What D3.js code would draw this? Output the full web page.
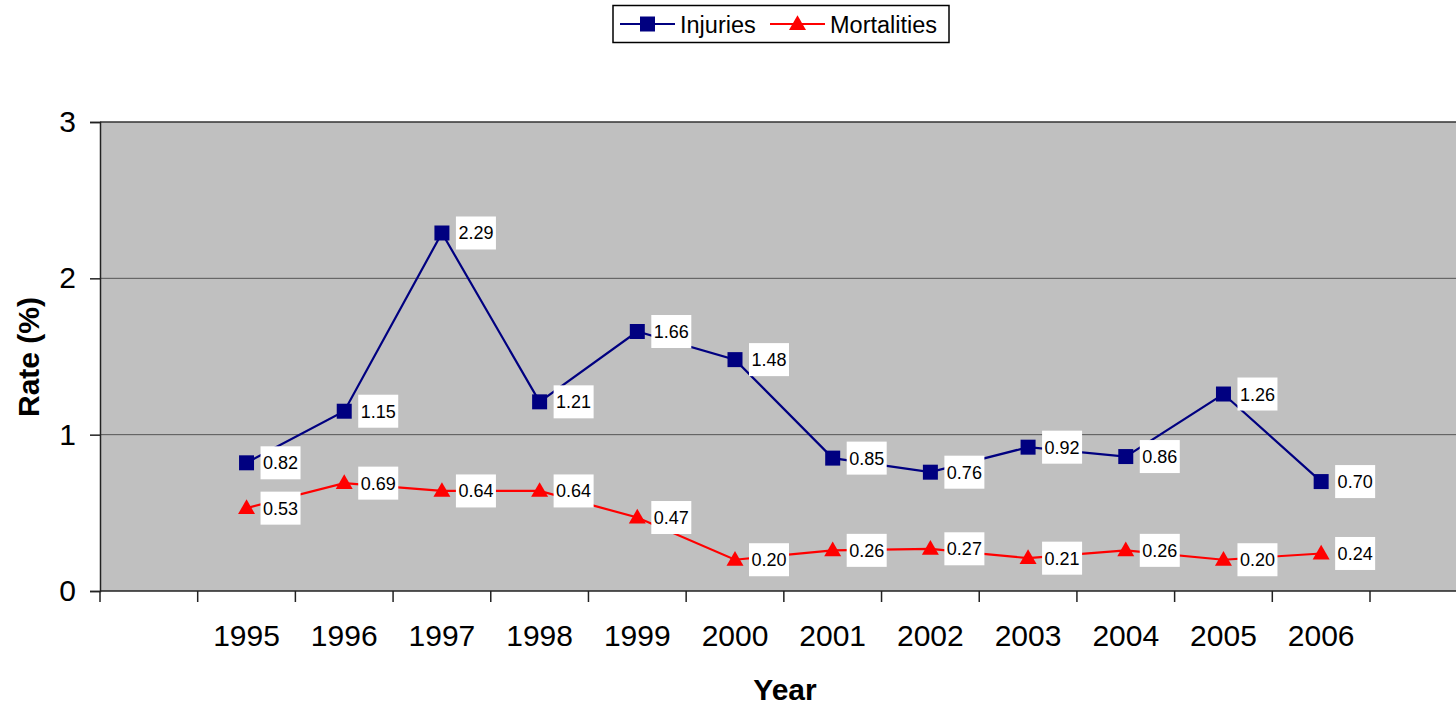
<!DOCTYPE html>
<html><head><meta charset="utf-8">
<script src="https://cdn.jsdelivr.net/npm/d3@7"></script>
<style>
html,body{margin:0;padding:0;background:#fff;}
svg{display:block;font-family:"Liberation Sans",Arial,sans-serif;}
</style></head>
<body><svg id="c" width="1456" height="707"></svg>
<script>
const years = ["1995","1996","1997","1998","1999","2000","2001","2002","2003","2004","2005","2006"];
const injuries = [0.82,1.15,2.29,1.21,1.66,1.48,0.85,0.76,0.92,0.86,1.26,0.70];
const mortalities = [0.53,0.69,0.64,0.64,0.47,0.20,0.26,0.27,0.21,0.26,0.20,0.24];
const yTicks = [0,1,2,3];
const seriesNames = ["Injuries","Mortalities"];

(function(){
const svg = d3.select("#c");
const pL = 100, pT = 122, pB = 591;
const bw = (1370 - 100) / 13;
const pR = 1370 + bw;

const x = d3.scaleBand().domain(years).range([pL + bw, 1370]);
const y = d3.scaleLinear().domain([0,3]).range([pB, pT]);

svg.append("rect").attr("x", pL).attr("y", pT).attr("width", pR-pL).attr("height", pB-pT).attr("fill", "#c0c0c0");

svg.append("g").selectAll("line").data(yTicks.filter(d=>d>0)).join("line")
  .attr("x1", pL).attr("x2", pR).attr("y1", d=>y(d)).attr("y2", d=>y(d))
  .attr("stroke", d=> d===3 ? "#333" : "#555").attr("stroke-width", d=> d===3?1.5:1);

const yAxis = svg.append("g").attr("transform", `translate(${pL},0)`)
  .call(d3.axisLeft(y).tickValues(yTicks).tickSize(10).tickPadding(14).tickFormat(d3.format("d")));
yAxis.select(".domain").attr("stroke","#222").attr("stroke-width",1.5);
yAxis.selectAll(".tick line").attr("stroke","#222").attr("stroke-width",1.5);
yAxis.selectAll("text").attr("font-size",30).attr("fill","#000").attr("font-family","Liberation Sans, Arial, sans-serif");

const boundaries = [pL, ...years.map(d=>x(d)), x(years[years.length-1]) + bw, pR];
const xg = svg.append("g");
xg.append("line").attr("x1",pL).attr("x2",pR).attr("y1",pB).attr("y2",pB).attr("stroke","#222").attr("stroke-width",1.5);
xg.selectAll("line.t").data(boundaries).join("line").attr("class","t")
  .attr("x1",d=>d).attr("x2",d=>d).attr("y1",pB).attr("y2",pB+11).attr("stroke","#222").attr("stroke-width",1.5);
xg.selectAll("text").data(years).join("text")
  .attr("x", d=>x(d)+x.bandwidth()/2).attr("y", 646).attr("text-anchor","middle")
  .attr("font-size",30).attr("fill","#000").text(d=>d);

svg.append("text").attr("transform","translate(39,357) rotate(-90)").attr("text-anchor","middle")
  .attr("font-size",30).attr("font-weight","bold").text("Rate (%)");
svg.append("text").attr("x",785).attr("y",700).attr("text-anchor","middle")
  .attr("font-size",30).attr("font-weight","bold").text("Year");

const cx = d => x(d) + x.bandwidth()/2;
const series = [
  {name: seriesNames[0], values: injuries, color: "#000080", shape: "square"},
  {name: seriesNames[1], values: mortalities, color: "#ff0000", shape: "triangle"}
];
const line = d3.line().x((d,i)=>cx(years[i])).y(d=>y(d));
const sq = d3.symbol().type(d3.symbolSquare).size(225);
const tri = d3.symbol().type(d3.symbolTriangle).size(125);

series.forEach(s=>{
  svg.append("path").attr("d", line(s.values)).attr("fill","none").attr("stroke", s.color).attr("stroke-width",2.2);
});
series.forEach(s=>{
  svg.append("g").selectAll("path").data(s.values).join("path")
    .attr("transform",(d,i)=>`translate(${cx(years[i])},${y(d) + (s.shape==="triangle"?1:0)})`)
    .attr("d", s.shape==="square"? sq() : tri()).attr("fill", s.color);
});
series.forEach(s=>{
  const g = svg.append("g").selectAll("g").data(s.values).join("g")
    .attr("transform",(d,i)=>`translate(${cx(years[i])+14},${y(d)})`);
  g.append("rect").attr("x",0).attr("y",-16.5).attr("width",40).attr("height",33).attr("fill","#fff");
  g.append("text").attr("x",20).attr("y",6.5).attr("text-anchor","middle").attr("font-size",18).attr("fill","#000")
    .text(d=>d3.format(".2f")(d));
});

const lg = svg.append("g");
lg.append("rect").attr("x",613).attr("y",5.5).attr("width",336).attr("height",37).attr("fill","#fff").attr("stroke","#000").attr("stroke-width",1.5);
const legItems = [
  {s: series[0], x0: 620, x1: 675, tx: 680},
  {s: series[1], x0: 770, x1: 825, tx: 830}
];
legItems.forEach(it=>{
  lg.append("line").attr("x1",it.x0).attr("x2",it.x1).attr("y1",24).attr("y2",24).attr("stroke",it.s.color).attr("stroke-width",2.2);
  lg.append("path").attr("transform",`translate(${(it.x0+it.x1)/2},${24 + (it.s.shape==="triangle"?1:0)})`)
    .attr("d", it.s.shape==="square"? sq() : tri()).attr("fill", it.s.color);
  lg.append("text").attr("x",it.tx).attr("y",32.5).attr("font-size",23.5).attr("fill","#000").text(it.s.name);
});
})();
</script></body></html>
